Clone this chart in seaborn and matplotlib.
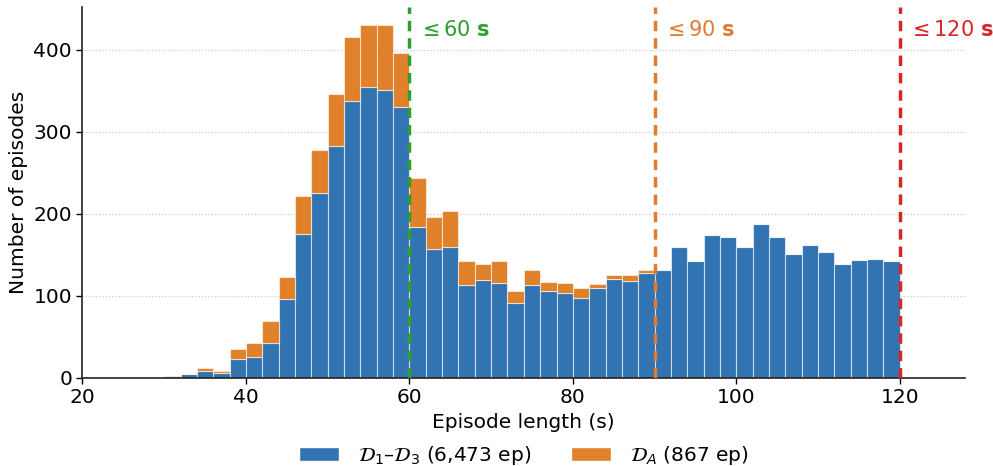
import numpy as np
import pandas as pd
import matplotlib
matplotlib.use("Agg")
import matplotlib.pyplot as plt
import seaborn as sns
from matplotlib.patches import Patch

# histogram values (2 s bins from 30 s to 120 s)
bin_edges = list(range(30, 122, 2))
counts_d13 = [0, 5, 8, 6, 23, 26, 42, 96, 175, 225, 283, 337, 354, 351, 330,
              184, 157, 159, 113, 119, 116, 91, 113, 106, 103, 98, 110, 120, 118, 128,
              132, 160, 142, 174, 172, 160, 187, 172, 151, 162, 154, 139, 144, 145, 142]
counts_da = [2, 0, 4, 3, 12, 16, 27, 27, 47, 53, 63, 78, 76, 79, 66,
             60, 39, 45, 30, 20, 26, 15, 19, 11, 13, 12, 5, 6, 7, 3,
             0, 0, 0, 0, 0, 0, 0, 0, 0, 0, 0, 0, 0, 0, 0]
label_d13 = r"$\mathcal{D}_1$–$\mathcal{D}_3$ (6,473 ep)"
label_da = r"$\mathcal{D}_A$ (867 ep)"
thresholds = [60, 90, 120]
threshold_labels = [r"$\leq 60$ $\mathbf{s}$", r"$\leq 90$ $\mathbf{s}$", r"$\leq 120$ $\mathbf{s}$"]

blue = "#3274b2"
orange = "#e1812c"
line_colors = ["#2ca02c", "#e07b2f", "#d62728"]

centers = np.array(bin_edges[:-1]) + 1
df = pd.DataFrame({
    "length": np.concatenate([centers, centers]),
    "count": counts_d13 + counts_da,
    "set": [label_d13] * len(centers) + [label_da] * len(centers),
})

sns.set_style("white")
plt.rcParams["font.family"] = ["DejaVu Sans"]
plt.rcParams.update({"text.color": "black", "axes.labelcolor": "black",
                     "xtick.color": "black", "ytick.color": "black"})

fig, ax = plt.subplots(figsize=(9.93, 4.66), dpi=100)
fig.subplots_adjust(left=0.083, right=0.972, top=0.985, bottom=0.189)

ax.grid(axis="y", linestyle=":", color="#cccccc", linewidth=0.9)
ax.set_axisbelow(True)

# last hue level ends up at the bottom of the stack
sns.histplot(data=df, x="length", weights="count", hue="set",
             hue_order=[label_da, label_d13],
             palette={label_d13: blue, label_da: orange},
             bins=bin_edges, multiple="stack", alpha=1,
             edgecolor=(1, 1, 1, 0.6), linewidth=0.8, legend=False, ax=ax)

for t, lab, c in zip(thresholds, threshold_labels, line_colors):
    ax.axvline(t, color=c, linestyle=(0, (3, 2)), linewidth=2.5, zorder=5)
    ax.text(t + 1.0, 0.938, lab, color=c, fontsize=15, va="center", ha="left",
            transform=ax.get_xaxis_transform(), clip_on=False)

ax.set_xlim(20, 128)
ax.set_ylim(0, 452)
ax.set_xticks([20, 40, 60, 80, 100, 120])
ax.set_yticks([0, 100, 200, 300, 400])
ax.tick_params(axis="both", labelsize=14.5, length=4, width=1, direction="out",
               bottom=True, left=True)
ax.set_xlabel("Episode length (s)", fontsize=14.5)
ax.set_ylabel("Number of episodes", fontsize=14.5)
sns.despine(ax=ax)
for s in ["left", "bottom"]:
    ax.spines[s].set_color("#222222")
    ax.spines[s].set_linewidth(1.2)

handles = [Patch(facecolor=blue, label=label_d13), Patch(facecolor=orange, label=label_da)]
ax.legend(handles=handles, loc="upper center", bbox_to_anchor=(0.5, -0.145), ncol=2,
          frameon=False, fontsize=14.5, handlelength=2.0, handleheight=0.7,
          columnspacing=2.0, handletextpad=0.9, borderaxespad=0.2)

fig.savefig("out.png", dpi=100)
